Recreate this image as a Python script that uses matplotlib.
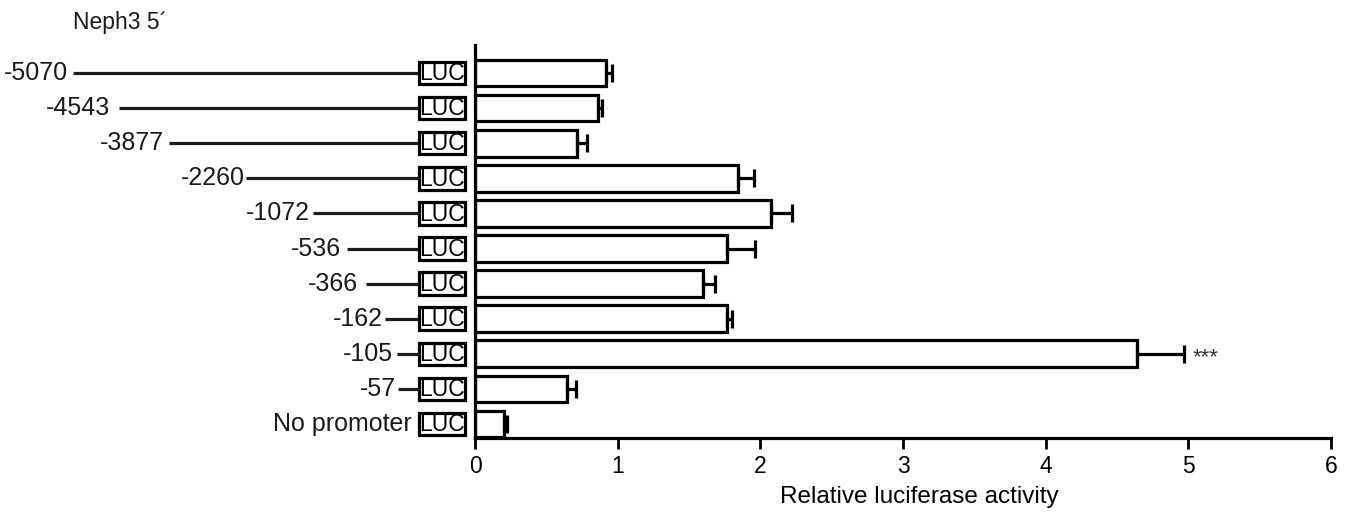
import matplotlib
matplotlib.use('Agg')
from matplotlib import pyplot as plt
from matplotlib.patches import Rectangle

plt.rcParams['font.family'] = ['Liberation Sans', 'DejaVu Sans']

# constructs (top to bottom), relative luciferase activity and error
constructs = ['-5070', '-4543', '-3877', '-2260', '-1072', '-536', '-366',
              '-162', '-105', '-57', 'No promoter']
activity = [0.92, 0.865, 0.715, 1.845, 2.075, 1.765, 1.595, 1.765, 4.64, 0.645, 0.205]
errors = [0.04, 0.025, 0.07, 0.11, 0.15, 0.20, 0.09, 0.035, 0.33, 0.065, 0.02]
signif = ['', '', '', '', '', '', '', '', '***', '', '']
xticks = [0, 1, 2, 3, 4, 5, 6]

# diagram layout (pixel-like units of the left panel)
line_start = [73, 119, 169, 246, 313, 347, 366, 385, 397, 398, None]
label_right = [68, 110, 164, 245, 310, 341, 358, 383, 393, 396, 412]

W, H = 1347, 512
fig = plt.figure(figsize=(W/100, H/100), dpi=100)

top_px, bot_px, row0_px, step_px = 45, 438, 73, 35.1
y_top = (top_px-row0_px)/step_px
y_bot = (bot_px-row0_px)/step_px
ax_b = 1-bot_px/H
ax_h = (bot_px-top_px)/H

ax = fig.add_axes([475/W, ax_b, (1331-475)/W, ax_h])
pos = list(range(len(constructs)))
ax.barh(pos, activity, height=0.76, color='white', edgecolor='black', linewidth=2.3)
ax.errorbar(activity, pos, xerr=[[0]*len(errors), errors], fmt='none',
            ecolor='black', elinewidth=2.3, capsize=6.5, capthick=2.3)
for i in pos:
    if signif[i]:
        ax.text(activity[i]+errors[i]+0.06, i+0.1, signif[i], fontsize=16,
                va='center', ha='left', color='#333333')
ax.set_xlim(0, 6)
ax.set_ylim(y_bot, y_top)
ax.set_xticks(xticks)
ax.set_xticklabels([str(t) for t in xticks], fontsize=16.5)
ax.set_yticks([])
for s in ['top', 'right']:
    ax.spines[s].set_visible(False)
for s in ['left', 'bottom']:
    ax.spines[s].set_linewidth(2.3)
ax.tick_params(axis='x', direction='out', length=8, width=2, pad=4)
ax.set_xlabel('Relative luciferase activity', fontsize=17.5)
ax.xaxis.label.set_va('center')
ax.xaxis.set_label_coords((919-475)/(1331-475), (bot_px-497)/(bot_px-top_px))

# construct diagram on the left
axd = fig.add_axes([0, ax_b, 475/W, ax_h])
axd.set_xlim(0, 475)
axd.set_ylim(y_bot, y_top)
axd.axis('off')
for i, name in enumerate(constructs):
    if line_start[i] is not None:
        axd.plot([line_start[i], 418], [i, i], color='#1a1a1a', lw=2.3,
                 solid_capstyle='butt')
    axd.text(label_right[i], i, name, ha='right', va='center', fontsize=18,
             color='#1a1a1a')
    axd.add_patch(Rectangle((418.5, i-0.32), 46, 0.64, facecolor='white',
                            edgecolor='black', lw=2.3))
    axd.text(441.5, i+0.02, 'LUC', ha='center', va='center', fontsize=16.5)

fig.text(73/W, 1-22/H, 'Neph3 5\u00b4', ha='left', va='center', fontsize=16.5,
         color='#1a1a1a')

fig.savefig('out.png', dpi=100)
